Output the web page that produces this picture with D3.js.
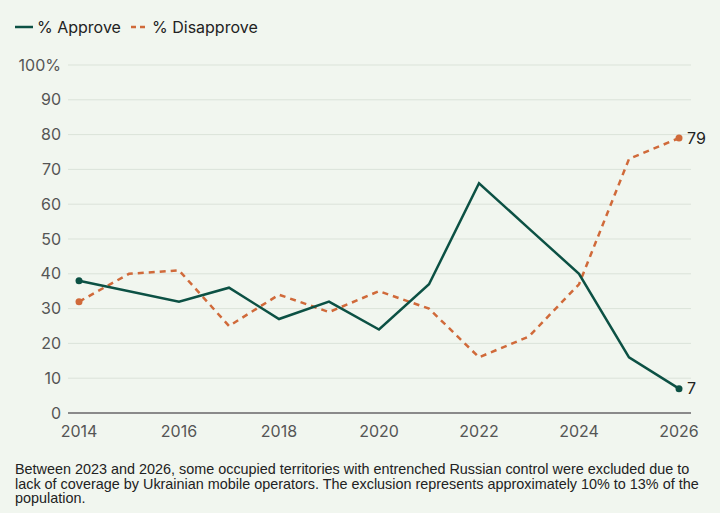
<!DOCTYPE html>
<html>
<head>
<meta charset="utf-8">
<script src="https://cdn.jsdelivr.net/npm/d3@7"></script>
<style>
  html, body { margin: 0; padding: 0; background: #f1f6ef; }
  svg { display: block; }
</style>
</head>
<body>
<svg id="chart" width="720" height="513"></svg>
<script>
const years = [2014, 2015, 2016, 2017, 2018, 2019, 2020, 2021, 2022, 2023, 2024, 2025, 2026];
const approve = [38, null, 32, 36, 27, 32, 24, 37, 66, 53, 40, 16, 7];
const disapprove = [32, 40, 41, 25, 34, 29, 35, 30, 16, 22, 37, 73, 79];
const yTicks = [0, 10, 20, 30, 40, 50, 60, 70, 80, 90, 100];
const xTicks = [2014, 2016, 2018, 2020, 2022, 2024, 2026];
const seriesNames = ["% Approve", "% Disapprove"];
const footnote = [
  "Between 2023 and 2026, some occupied territories with entrenched Russian control were excluded due to",
  "lack of coverage by Ukrainian mobile operators. The exclusion represents approximately 10% to 13% of the",
  "population."
];

const approveColor = "#0c5144";
const disapproveColor = "#d06a3a";
const font = "Inter, 'Noto Sans', sans-serif";

const svg = d3.select("#chart");
svg.append("rect").attr("width", 720).attr("height", 513).attr("fill", "#f1f6ef");

const x = d3.scaleLinear().domain([2014, 2026]).range([79, 679]);
const y = d3.scaleLinear().domain([0, 100]).range([413, 65]);
const gridX0 = 68, gridX1 = 691;

// gridlines
svg.append("g").selectAll("line").data(yTicks.filter(d => d > 0)).join("line")
  .attr("x1", gridX0).attr("x2", gridX1)
  .attr("y1", d => y(d)).attr("y2", d => y(d))
  .attr("stroke", "#dbe3d9").attr("stroke-width", 1);

// y labels
svg.append("g").selectAll("text").data(yTicks).join("text")
  .attr("x", 61).attr("y", d => y(d)).attr("dy", "0.35em")
  .attr("text-anchor", "end")
  .attr("font-family", font).attr("font-size", 16).attr("fill", "#555")
  .text(d => d === 100 ? "100%" : d);

// baseline
svg.append("line").attr("x1", gridX0).attr("x2", gridX1)
  .attr("y1", y(0)).attr("y2", y(0)).attr("stroke", "#8a8a8a").attr("stroke-width", 2);

// x labels
svg.append("g").selectAll("text").data(xTicks).join("text")
  .attr("x", d => x(d)).attr("y", 437)
  .attr("text-anchor", "middle")
  .attr("font-family", font).attr("font-size", 16).attr("fill", "#555")
  .text(d => d);

const aData = years.map((yr, i) => ({ yr, v: approve[i] })).filter(d => d.v != null);
const dData = years.map((yr, i) => ({ yr, v: disapprove[i] })).filter(d => d.v != null);
const line = d3.line().x(d => x(d.yr)).y(d => y(d.v));

svg.append("path").datum(dData).attr("d", line)
  .attr("fill", "none").attr("stroke", disapproveColor).attr("stroke-width", 2.5)
  .attr("stroke-dasharray", "6,5");
svg.append("path").datum(aData).attr("d", line)
  .attr("fill", "none").attr("stroke", approveColor).attr("stroke-width", 2.5)
  .attr("stroke-linejoin", "miter");

// end dots
[[aData, approveColor], [dData, disapproveColor]].forEach(([data, c]) => {
  const first = data[0], last = data[data.length - 1];
  [first, last].forEach(p => {
    svg.append("circle").attr("cx", x(p.yr)).attr("cy", y(p.v)).attr("r", 3.5).attr("fill", c);
  });
  svg.append("text").attr("x", x(last.yr) + 8).attr("y", y(last.v)).attr("dy", "0.35em")
    .attr("font-family", font).attr("font-size", 16).attr("fill", "#222")
    .text(last.v);
});

// legend
const lg = svg.append("g");
lg.append("line").attr("x1", 15).attr("x2", 33).attr("y1", 27).attr("y2", 27)
  .attr("stroke", approveColor).attr("stroke-width", 2.5);
lg.append("text").attr("x", 37).attr("y", 27).attr("dy", "0.36em")
  .attr("font-family", font).attr("font-size", 16).attr("fill", "#222").text(seriesNames[0]);
lg.append("line").attr("x1", 131).attr("x2", 148).attr("y1", 27).attr("y2", 27)
  .attr("stroke", disapproveColor).attr("stroke-width", 2.5).attr("stroke-dasharray", "5,4");
lg.append("text").attr("x", 152).attr("y", 27).attr("dy", "0.36em")
  .attr("font-family", font).attr("font-size", 16).attr("fill", "#222").text(seriesNames[1]);

// footnote
svg.append("g").selectAll("text").data(footnote).join("text")
  .attr("x", 15).attr("y", (d, i) => 474 + i * 14.5)
  .attr("font-family", "'Liberation Sans Narrow', 'Arial Narrow', 'Liberation Sans', sans-serif")
  .attr("font-size", 14.4).attr("fill", "#222")
  .text(d => d);
</script>
</body>
</html>
